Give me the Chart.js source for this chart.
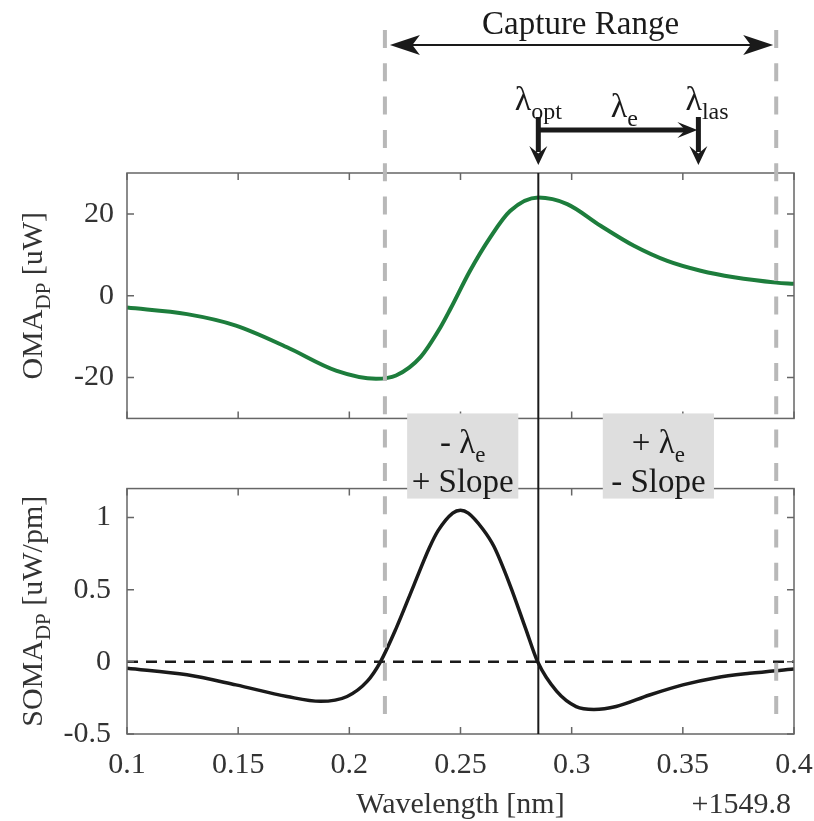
<!DOCTYPE html>
<html>
<head>
<meta charset="utf-8">
<script src="https://cdn.jsdelivr.net/npm/chart.js@4.4.1/dist/chart.umd.min.js"></script>
<style>
    html, body { margin: 0; padding: 0; background: #fff; }
    canvas { display: block; }
</style>
</head>
<body>
<canvas id="myChart" width="814" height="821"></canvas>
<script>
// wavelength offsets (nm, +1549.8) and the two measured curves
const omaX = [0.100, 0.127, 0.149, 0.172, 0.194, 0.212, 0.221, 0.232, 0.241, 0.2455, 0.2543, 0.2633, 0.2723, 0.285, 0.298, 0.313, 0.328, 0.343, 0.358, 0.373, 0.392, 0.400];
const omaY = [-2.9, -4.5, -7.3, -12.6, -18.3, -20.3, -19.5, -15.0, -7.7, -3.2, 6.1, 14.2, 20.7, 24.0, 22.4, 17.1, 12.2, 8.5, 6.1, 4.5, 3.2, 2.9];

const somaX = [0.100, 0.127, 0.149, 0.172, 0.187, 0.199, 0.208, 0.214, 0.221, 0.229, 0.236, 0.240, 0.2465, 0.250, 0.2535, 0.260, 0.265, 0.2723, 0.2793, 0.2847, 0.2933, 0.302, 0.310, 0.320, 0.335, 0.350, 0.365, 0.380, 0.400];
const somaY = [-0.044, -0.09, -0.16, -0.24, -0.274, -0.24, -0.136, 0, 0.23, 0.53, 0.79, 0.91, 1.03, 1.05, 1.03, 0.92, 0.80, 0.53, 0.23, 0, -0.205, -0.31, -0.33, -0.31, -0.23, -0.16, -0.11, -0.08, -0.05];

const zeroX = [0.1, 0.4];
const zeroY = [0, 0];

const xTicks = [0.1, 0.15, 0.2, 0.25, 0.3, 0.35, 0.4];
const xTickLabels = ['0.1', '0.15', '0.2', '0.25', '0.3', '0.35', '0.4'];
const omaTicks = [-20, 0, 20];
const omaTickLabels = ['-20', '0', '20'];
const somaTicks = [-0.5, 0, 0.5, 1];
const somaTickLabels = ['-0.5', '0', '0.5', '1'];

// markers (x values)
const captureRange = [0.216, 0.392];
const lambdaOpt = 0.285;
const lambdaLas = 0.357;
const slopeBoxes = [[0.226, 0.276], [0.314, 0.364]];

const SERIF = "'Liberation Serif', 'Times New Roman', serif";
const INK = '#1a1a1a';
const TXT = '#333';
const FRAME = '#666';

const pts = (xs, ys) => xs.map((x, i) => ({ x: x, y: ys[i] }));

// text with subscripts: parts = [[text, isSub], ...]
function richText(ctx, parts, x, y, size, align) {
    const subSize = Math.round(size * 0.7);
    let w = 0;
    parts.forEach(p => {
        ctx.font = (p[1] ? subSize : size) + 'px ' + SERIF;
        w += ctx.measureText(p[0]).width;
    });
    let cx = align === 'center' ? x - w / 2 : x;
    ctx.textAlign = 'left';
    ctx.textBaseline = 'alphabetic';
    parts.forEach(p => {
        ctx.font = (p[1] ? subSize : size) + 'px ' + SERIF;
        ctx.fillText(p[0], cx, y + (p[1] ? size * 0.27 : 0));
        cx += ctx.measureText(p[0]).width;
    });
}

function arrowHead(ctx, tx, ty, dx, dy, len, half, notch) {
    const px = -dy, py = dx;
    ctx.beginPath();
    ctx.moveTo(tx, ty);
    ctx.lineTo(tx - dx * len + px * half, ty - dy * len + py * half);
    ctx.lineTo(tx - dx * len * notch, ty - dy * len * notch);
    ctx.lineTo(tx - dx * len - px * half, ty - dy * len - py * half);
    ctx.closePath();
    ctx.fill();
}

const decorations = {
    id: 'decorations',
    afterDraw(chart) {
        const ctx = chart.ctx;
        const area = chart.chartArea;
        const sx = chart.scales.x;
        const top = chart.scales.yTop;
        const bot = chart.scales.yBot;
        ctx.save();

        // boxes round each plot with inward ticks
        ctx.strokeStyle = FRAME;
        ctx.lineWidth = 1.5;
        [[top, omaTicks], [bot, somaTicks]].forEach(([s, yt]) => {
            ctx.strokeRect(area.left, s.top, area.right - area.left, s.bottom - s.top);
            ctx.beginPath();
            xTicks.forEach(v => {
                const px = sx.getPixelForValue(v);
                ctx.moveTo(px, s.top); ctx.lineTo(px, s.top + 7);
                ctx.moveTo(px, s.bottom); ctx.lineTo(px, s.bottom - 7);
            });
            yt.forEach(v => {
                const py = s.getPixelForValue(v);
                ctx.moveTo(area.left, py); ctx.lineTo(area.left + 7, py);
                ctx.moveTo(area.right, py); ctx.lineTo(area.right - 7, py);
            });
            ctx.stroke();
        });

        // capture range limits
        ctx.strokeStyle = '#b8b8b8';
        ctx.lineWidth = 4;
        ctx.setLineDash([18, 15.3]);
        captureRange.forEach(v => {
            const px = sx.getPixelForValue(v);
            ctx.beginPath();
            ctx.moveTo(px, 30);
            ctx.lineTo(px, bot.bottom - 10);
            ctx.stroke();
        });
        ctx.setLineDash([]);

        // lambda_opt line through both plots
        const optPx = sx.getPixelForValue(lambdaOpt);
        const lasPx = sx.getPixelForValue(lambdaLas);
        ctx.strokeStyle = INK;
        ctx.lineWidth = 2;
        ctx.beginPath();
        ctx.moveTo(optPx, top.top);
        ctx.lineTo(optPx, bot.bottom);
        ctx.stroke();

        // slope boxes
        slopeBoxes.forEach((b, i) => {
            const l = sx.getPixelForValue(b[0]);
            const r = sx.getPixelForValue(b[1]);
            const bt = top.bottom - 5;
            const bb = bot.top + 10;
            ctx.fillStyle = '#dedede';
            ctx.fillRect(l, bt, r - l, bb - bt);
            ctx.fillStyle = INK;
            const cx = (l + r) / 2;
            richText(ctx, [[i === 0 ? '- λ' : '+ λ', false], ['e', true]], cx, bt + 40, 33, 'center');
            richText(ctx, [[i === 0 ? '+ Slope' : '- Slope', false]], cx, bt + 79, 33, 'center');
        });

        // capture range arrow
        const lPx = sx.getPixelForValue(captureRange[0]);
        const rPx = sx.getPixelForValue(captureRange[1]);
        ctx.fillStyle = INK;
        ctx.strokeStyle = INK;
        ctx.lineWidth = 2;
        ctx.beginPath();
        ctx.moveTo(lPx + 12, 45);
        ctx.lineTo(rPx - 12, 45);
        ctx.stroke();
        arrowHead(ctx, lPx + 5, 45, -1, 0, 30, 10, 0.75);
        arrowHead(ctx, rPx - 3, 45, 1, 0, 30, 10, 0.75);
        richText(ctx, [['Capture Range', false]], (lPx + rPx) / 2, 34, 33, 'center');

        // lambda_opt -> lambda_las arrows
        ctx.lineWidth = 5;
        ctx.beginPath();
        ctx.moveTo(optPx, 117); ctx.lineTo(optPx, 152);
        ctx.moveTo(lasPx, 117); ctx.lineTo(lasPx, 152);
        ctx.moveTo(optPx, 130); ctx.lineTo(lasPx - 12, 130);
        ctx.stroke();
        arrowHead(ctx, optPx, 165, 0, 1, 19, 9, 0.6);
        arrowHead(ctx, lasPx, 165, 0, 1, 19, 9, 0.6);
        arrowHead(ctx, lasPx - 1, 130, 1, 0, 20, 8, 0.6);

        richText(ctx, [['λ', false], ['opt', true]], optPx, 110, 34, 'center');
        richText(ctx, [['λ', false], ['e', true]], (optPx + lasPx) / 2 + 6, 117, 34, 'center');
        richText(ctx, [['λ', false], ['las', true]], lasPx - 13, 110, 34, 'left');

        // axis titles
        ctx.fillStyle = TXT;
        ctx.save();
        ctx.translate(42, (top.top + top.bottom) / 2);
        ctx.rotate(-Math.PI / 2);
        richText(ctx, [['OMA', false], ['DP', true], [' [uW]', false]], 0, 0, 30, 'center');
        ctx.restore();
        ctx.save();
        ctx.translate(42, (bot.top + bot.bottom) / 2);
        ctx.rotate(-Math.PI / 2);
        richText(ctx, [['SOMA', false], ['DP', true], [' [uW/pm]', false]], 0, 0, 30, 'center');
        ctx.restore();

        richText(ctx, [['Wavelength [nm]', false]], (area.left + area.right) / 2, 813, 30, 'center');
        ctx.textAlign = 'right';
        ctx.font = '30px ' + SERIF;
        ctx.fillText('+1549.8', area.right - 3, 813);

        ctx.restore();
    }
};

const tickFont = { family: SERIF, size: 30 };

const myChart = new Chart(document.getElementById('myChart').getContext('2d'), {
    type: 'line',
    data: {
        datasets: [
            {
                data: pts(omaX, omaY),
                yAxisID: 'yTop',
                borderColor: '#1d7d3c',
                borderWidth: 4,
                pointRadius: 0,
                cubicInterpolationMode: 'monotone'
            },
            {
                data: pts(zeroX, zeroY),
                yAxisID: 'yBot',
                borderColor: INK,
                borderWidth: 2.5,
                borderDash: [11, 8],
                pointRadius: 0
            },
            {
                data: pts(somaX, somaY),
                yAxisID: 'yBot',
                borderColor: INK,
                borderWidth: 3.5,
                pointRadius: 0,
                cubicInterpolationMode: 'monotone'
            }
        ]
    },
    options: {
        responsive: false,
        devicePixelRatio: 1,
        animation: false,
        layout: { padding: { top: 173, right: 20, left: 0, bottom: 0 } },
        plugins: {
            legend: { display: false },
            tooltip: { enabled: false }
        },
        scales: {
            x: {
                type: 'linear',
                position: 'bottom',
                min: 0.1,
                max: 0.4,
                afterBuildTicks: s => { s.ticks = xTicks.map(v => ({ value: v })); },
                afterFit: s => {
                    s.height = 87;
                    s.paddingLeft = 0;
                    s.paddingRight = 0;
                },
                grid: { display: false, drawTicks: false },
                border: { display: false },
                ticks: {
                    callback: (v, i) => xTickLabels[i],
                    font: tickFont,
                    color: TXT,
                    padding: 13,
                    maxRotation: 0,
                    autoSkip: false
                }
            },
            yTop: {
                type: 'linear',
                position: 'left',
                stack: 'plots',
                stackWeight: 245,
                weight: 3,
                min: -30,
                max: 30,
                afterBuildTicks: s => { s.ticks = omaTicks.map(v => ({ value: v })); },
                afterFit: s => { s.width = 127; },
                grid: { display: false, drawTicks: false },
                border: { display: false },
                ticks: { callback: (v, i) => omaTickLabels[i], font: tickFont, color: TXT, padding: 13 }
            },
            yGap: {
                type: 'linear',
                position: 'left',
                stack: 'plots',
                stackWeight: 70,
                weight: 2,
                min: 0,
                max: 1,
                afterFit: s => { s.width = 127; },
                grid: { display: false, drawTicks: false },
                border: { display: false },
                ticks: { display: false }
            },
            yBot: {
                type: 'linear',
                position: 'left',
                stack: 'plots',
                stackWeight: 245,
                weight: 1,
                min: -0.5,
                max: 1.2,
                afterBuildTicks: s => { s.ticks = somaTicks.map(v => ({ value: v })); },
                afterFit: s => { s.width = 127; },
                grid: { display: false, drawTicks: false },
                border: { display: false },
                ticks: { callback: (v, i) => somaTickLabels[i], font: tickFont, color: TXT, padding: 16 }
            }
        }
    },
    plugins: [decorations]
});
</script>
</body>
</html>
